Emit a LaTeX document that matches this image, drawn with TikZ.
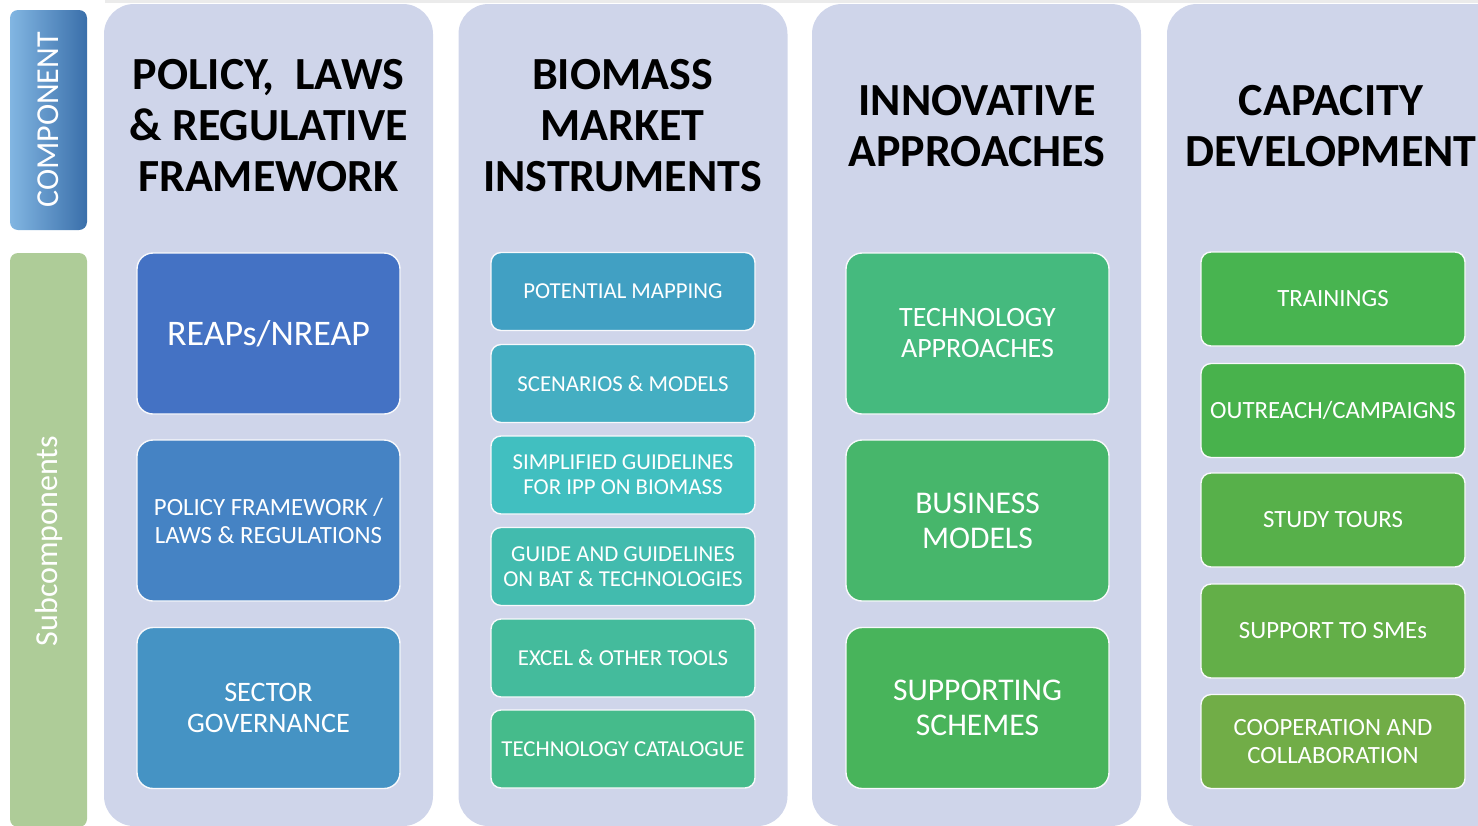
\documentclass[tikz,border=0pt]{standalone}
\usepackage{fontspec}
\setmainfont{Carlito}

\definecolor{panelbg}{HTML}{CFD5EA}
\definecolor{compL}{HTML}{82B6E2}
\definecolor{compR}{HTML}{3A6FAA}
\definecolor{subgreen}{HTML}{AECC98}
\definecolor{polA}{HTML}{4472C4}
\definecolor{polB}{HTML}{4583C4}
\definecolor{polC}{HTML}{4593C4}
\definecolor{bioA}{HTML}{41A0C3}
\definecolor{bioB}{HTML}{44AEC2}
\definecolor{bioC}{HTML}{41BFC0}
\definecolor{bioD}{HTML}{42BBAE}
\definecolor{bioE}{HTML}{44BB9C}
\definecolor{bioF}{HTML}{45BB8B}
\definecolor{innA}{HTML}{45BA7E}
\definecolor{innB}{HTML}{47B66B}
\definecolor{innC}{HTML}{48B45B}
\definecolor{capA}{HTML}{48B450}
\definecolor{capB}{HTML}{48B24C}
\definecolor{capC}{HTML}{57B04A}
\definecolor{capD}{HTML}{63AF48}
\definecolor{capE}{HTML}{71AD47}

\begin{document}
\begin{tikzpicture}
  [x=0.5pt, y=-0.5pt,
    panel/.style={fill=panelbg, rounded corners=15pt,
    minimum width=164.5pt, minimum height=411pt, inner sep=0pt},
    heading/.style={align=center, font=\bfseries\fontsize{23}{25.5}\selectfont},
    bigbox/.style={draw=white!85!panelbg, line width=0.7pt, rounded corners=8pt,
    minimum width=131.5pt, minimum height=80.5pt, align=center, text=white},
    smallbox/.style={draw=white!85!panelbg, line width=0.7pt, rounded corners=5pt,
    minimum width=132pt, minimum height=39pt, align=center, text=white,
    font=\fontsize{11.4}{12.5}\selectfont},
    capbox/.style={smallbox, minimum height=47pt, font=\fontsize{12.4}{14}\selectfont},
    sidetext/.style={rotate=90, text=white, font=\fontsize{16}{18}\selectfont}]
  \useasboundingbox (0,0) rectangle (1478,825);
  \fill[black!8] (105,0) rectangle (1478,3);

  % side labels
  \node[left color=compL, right color=compR, rounded corners=4pt,
    minimum width=38.5pt, minimum height=110pt, inner sep=0pt] (comp) at (48.5,120) {};
  \node[sidetext] (comptext) at (comp) {COMPONENT};
  \node[fill=subgreen, rounded corners=4pt,
    minimum width=38.5pt, minimum height=287pt, inner sep=0pt] (sub) at (48.5,540) {};
  \node[sidetext] (subtext) at (48.5,541) {Subcomponents};

  % columns
  \node[panel] (pan1) at (268.5,415) {};
  \node[panel] (pan2) at (623,415) {};
  \node[panel] (pan3) at (976.5,415) {};
  \node[panel, minimum width=180pt] (pan4) at (1347,415) {};

  \node[heading] (head1) at (268.5,126) {POLICY,\ \ LAWS\\ \& REGULATIVE\\ FRAMEWORK};
  \node[heading] (head2) at (622.5,126) {BIOMASS\\ MARKET\\ INSTRUMENTS};
  \node[heading] (head3) at (977,126) {INNOVATIVE\\ APPROACHES};
  \node[heading] (head4) at (1331,126) {CAPACITY\\ DEVELOPMENT};

  % policy, laws & regulative framework
  \node[bigbox, fill=polA, font=\fontsize{18}{21}\selectfont] (reap) at (268.5,333.5) {REAPs/NREAP};
  \node[bigbox, fill=polB, font=\fontsize{12.4}{14}\selectfont] (polfw) at (268.5,520.5) {POLICY FRAMEWORK /\\ LAWS \& REGULATIONS};
  \node[bigbox, fill=polC, font=\fontsize{14.1}{15.5}\selectfont] (gov) at (268.5,708) {SECTOR\\ GOVERNANCE};

  % biomass market instruments
  \node[smallbox, fill=bioA] (potmap) at (623,291.5) {POTENTIAL MAPPING};
  \node[smallbox, fill=bioB] (scen) at (623,383.5) {SCENARIOS \& MODELS};
  \node[smallbox, fill=bioC] (simpl) at (623,475) {SIMPLIFIED GUIDELINES\\ FOR IPP ON BIOMASS};
  \node[smallbox, fill=bioD] (guide) at (623,566.5) {GUIDE AND GUIDELINES\\ ON BAT \& TECHNOLOGIES};
  \node[smallbox, fill=bioE] (excel) at (623,658) {EXCEL \& OTHER TOOLS};
  \node[smallbox, fill=bioF] (catal) at (623,749) {TECHNOLOGY CATALOGUE};

  % innovative approaches
  \node[bigbox, fill=innA, font=\fontsize{14}{15.5}\selectfont] (techapp) at (977.5,333.5) {TECHNOLOGY\\ APPROACHES};
  \node[bigbox, fill=innB, font=\fontsize{15.8}{17.5}\selectfont] (busmod) at (977.5,520.5) {BUSINESS\\ MODELS};
  \node[bigbox, fill=innC, font=\fontsize{15.8}{17.5}\selectfont] (suppsch) at (977.5,708) {SUPPORTING\\ SCHEMES};

  % capacity development
  \node[capbox, fill=capA] (train) at (1333,299) {TRAININGS};
  \node[capbox, fill=capB] (outr) at (1333,410.5) {OUTREACH/CAMPAIGNS};
  \node[capbox, fill=capC] (study) at (1333,520) {STUDY TOURS};
  \node[capbox, fill=capD] (smes) at (1333,631) {SUPPORT TO SMEs};
  \node[capbox, fill=capE] (coop) at (1333,741.5) {COOPERATION AND\\ COLLABORATION};
\end{tikzpicture}
\end{document}
